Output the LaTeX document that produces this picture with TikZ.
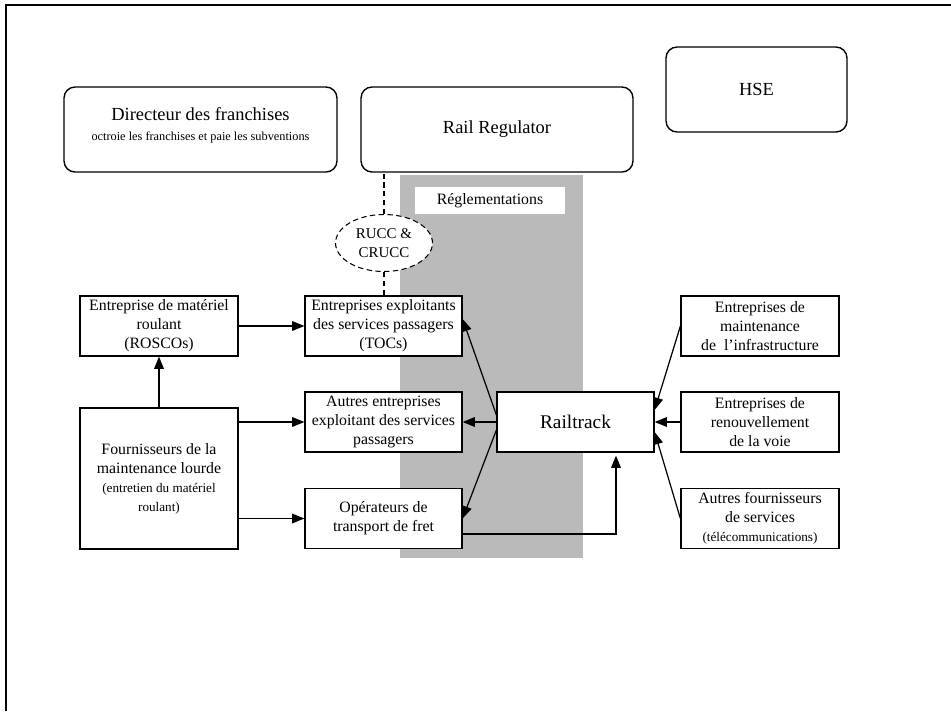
\documentclass[tikz,border=0pt]{standalone}
\usepackage{fontspec}
\setmainfont{Liberation Serif}
\usetikzlibrary{arrows.meta,shapes.geometric}

\newcommand{\petit}{\fontsize{7.5}{9}\selectfont}

\begin{document}
\begin{tikzpicture}[x=0.02cm, y=-0.02cm, >={Triangle[length=7pt,width=5.5pt]},
    boite/.style={draw, fill=white, line width=0.7pt, align=center, inner sep=1pt,
      minimum width=3.16cm, minimum height=1.2cm, font=\fontsize{9}{10.8}\selectfont},
    arrondi/.style={draw, fill=white, line width=0.8pt, rounded corners=0.22cm,
      align=center, minimum height=1.7cm, font=\fontsize{10.5}{12.5}\selectfont},
    fl/.style={->, line width=0.7pt}]
    \useasboundingbox (0,0) rectangle (951,711);

    % Cadre
    \draw[line width=1.1pt] (6,711) -- (6,5) -- (951,5);

    % Bande des reglementations
    \fill[black!27] (400,175) rectangle (583,558);
    \node[fill=white, minimum width=3cm, minimum height=0.54cm,
      font=\fontsize{9}{10}\selectfont] (regl) at (490,200.5) {Réglementations};

    % Autorites
    \node[arrondi, minimum width=5.46cm] (dir) at (200.5,129.5)
      {Directeur des franchises\\[-1pt]{\fontsize{7}{8}\selectfont octroie les franchises et paie les subventions}\\[-6pt]\mbox{}};
    \node[arrondi, minimum width=5.44cm] (rr) at (497,129.5) {Rail Regulator};
    \node[arrondi, minimum width=3.62cm] (hse) at (756.5,89.5) {HSE};

    % Comites d'usagers
    \node[ellipse, draw, fill=white, dash pattern=on 3pt off 2pt, line width=0.6pt,
      minimum width=1.94cm, minimum height=1.14cm, inner sep=0pt, align=center,
      font=\fontsize{8.5}{10.5}\selectfont] (rucc) at (384,243) {RUCC \&\\CRUCC};

    % Colonne de gauche
    \node[boite] (rosco) at (159,326) {Entreprise de matériel\\roulant\\(ROSCOs)};
    \node[boite, minimum height=2.82cm] (fourn) at (159,478.5)
      {Fournisseurs de la\\maintenance lourde\\{\petit (entretien du matériel}\\{\petit roulant)}};

    % Exploitants
    \node[boite, minimum width=3.14cm] (toc) at (383.5,326)
      {Entreprises exploitants\\des services passagers\\(TOCs)};
    \node[boite, minimum width=3.14cm] (autres) at (383.5,422)
      {Autres entreprises\\exploitant des services\\passagers};
    \node[boite, minimum width=3.14cm] (fret) at (383.5,518.5)
      {Opérateurs de\\transport de fret};

    % Railtrack
    \node[boite, minimum width=3.14cm, font=\fontsize{11}{13}\selectfont] (rail) at (575.5,422) {Railtrack};

    % Fournisseurs de Railtrack
    \node[boite] (infra) at (760,326) {Entreprises de\\maintenance\\de\ \ l’infrastructure};
    \node[boite] (renouv) at (760,422) {Entreprises de\\renouvellement\\de la voie};
    \node[boite] (autf) at (760,518.5) {Autres fournisseurs\\de services\\{\petit (télécommunications)}};

    % Liens pointilles
    \draw[dash pattern=on 3pt off 2pt, line width=0.6pt] (rucc.north) -- (rucc.north |- rr.south);
    \draw[dash pattern=on 3pt off 2pt, line width=0.6pt] (rucc.south) -- (rucc.south |- toc.north);

    % Fleches
    \draw[fl] (rosco.east) -- (toc.west);
    \draw[fl] (fourn.north) -- (rosco.south);
    \draw[fl] (fourn.east |- autres) -- (autres.west);
    \draw[fl] (fourn.east |- fret) -- (fret.west);
    \draw[fl] ([yshift=0.14cm]rail.west) -- ([yshift=0.14cm]toc.east);
    \draw[fl] (rail.west) -- (autres.east);
    \draw[fl] ([yshift=-0.16cm]rail.west) -- (fret.east);
    \draw[fl] ([yshift=-0.31cm]fret.east) -| ([xshift=0.81cm, yshift=-0.06cm]rail.south);
    \draw[fl] (infra.west) -- ([yshift=0.24cm]rail.east);
    \draw[fl] (renouv.west) -- (rail.east);
    \draw[fl] (autf.west) -- ([yshift=-0.2cm]rail.east);
\end{tikzpicture}
\end{document}
